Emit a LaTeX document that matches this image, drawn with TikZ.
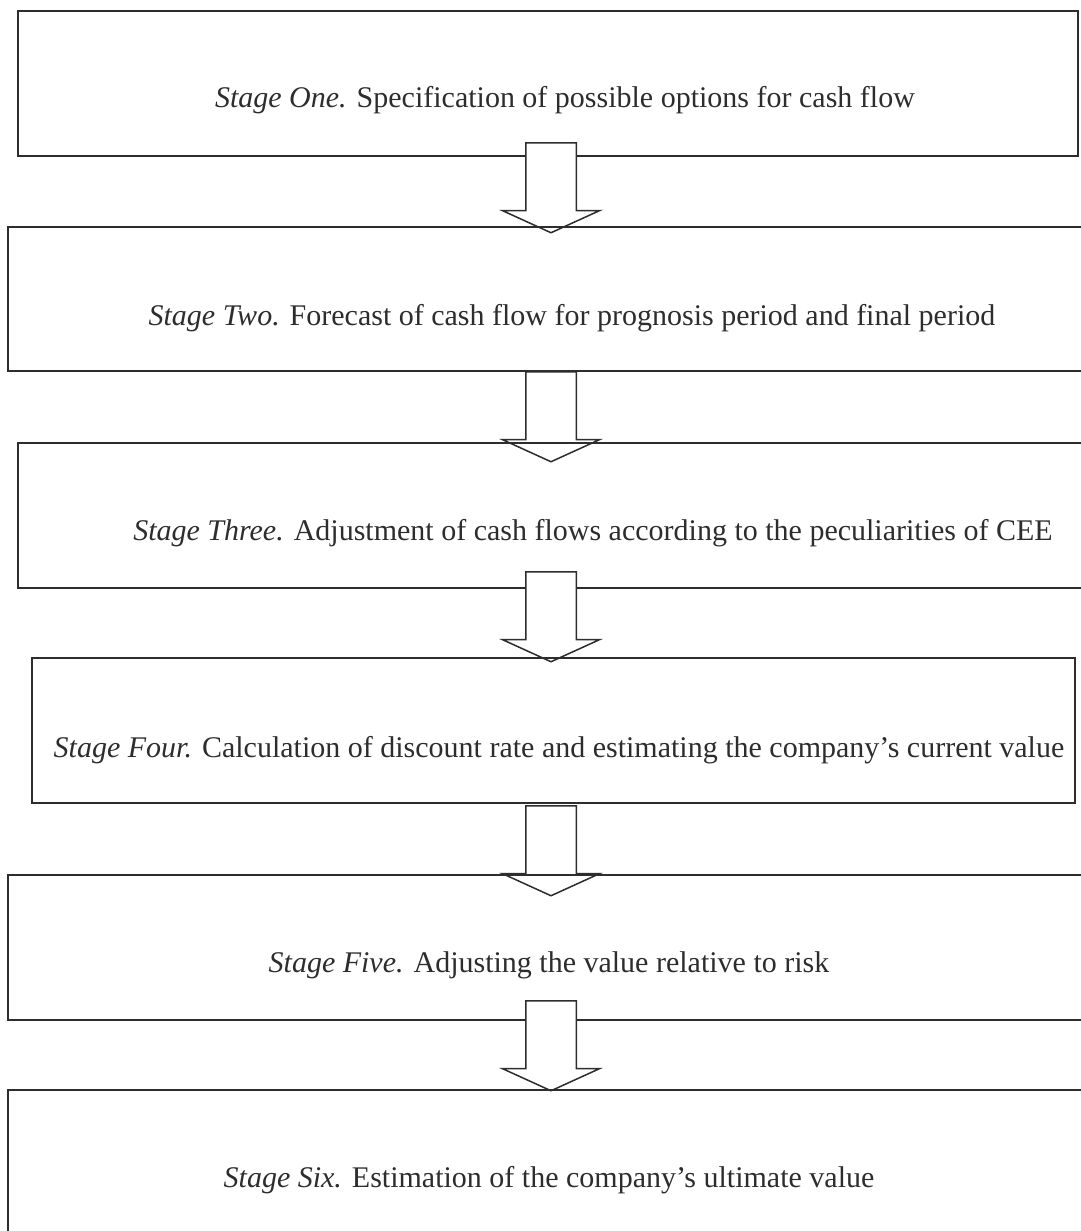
\documentclass[tikz,border=0pt]{standalone}
\usepackage{fontspec}
\setmainfont{Liberation Serif}
\usetikzlibrary{shapes.arrows}
\definecolor{inkgray}{RGB}{45,45,45}

\begin{document}
\begin{tikzpicture}[x=1pt,y=-1pt,
  stagebox/.style={draw=inkgray,line width=1.5pt,inner sep=0pt},
  stagetext/.style={font=\fontsize{30}{36}\selectfont,text=inkgray,inner sep=0pt},
  stagearrow/.style={single arrow,draw=inkgray,fill=white,line width=1.5pt,rotate=-90,anchor=tail,
    minimum height=90pt,inner xsep=0pt,inner ysep=24.5pt,single arrow head extend=23.5pt,single arrow tip angle=131}]
\useasboundingbox (0,0) rectangle (1080,1231);
% stages, each arrow drawn before the next box
\node[stagebox,minimum width=1060pt,minimum height=145pt] (s1) at (548,83.5) {};
\node[stagearrow] (a1) at (551,142) {};
\node[stagebox,minimum width=1074pt,minimum height=144pt] (s2) at (545,299) {};
\node[stagearrow] (a2) at (551,371) {};
\node[stagebox,minimum width=1064pt,minimum height=145pt] (s3) at (550,515.5) {};
\node[stagearrow] (a3) at (551,571) {};
\node[stagebox,minimum width=1043pt,minimum height=145pt] (s4) at (553.5,730.5) {};
\node[stagearrow] (a4) at (551,805) {};
\node[stagebox,minimum width=1074pt,minimum height=145pt] (s5) at (545,947.5) {};
\node[stagearrow] (a5) at (551,1000) {};
\node[stagebox,minimum width=1074pt,minimum height=144pt] (s6) at (545,1162) {};
% texts
\node[stagetext] (t1) at (565,100) {\textit{Stage One.} Specification of possible options for cash flow};
\node[stagetext] (t2) at (572,318) {\textit{Stage Two.} Forecast of cash flow for prognosis period and final period};
\node[stagetext] (t3) at (593,533) {\textit{Stage Three.} Adjustment of cash flows according to the peculiarities of CEE};
\node[stagetext] (t4) at (559,750) {\textit{Stage Four.} Calculation of discount rate and estimating the company’s current value};
\node[stagetext] (t5) at (549,965) {\textit{Stage Five.} Adjusting the value relative to risk};
\node[stagetext] (t6) at (549,1180) {\textit{Stage Six.} Estimation of the company’s ultimate value};
\end{tikzpicture}
\end{document}
